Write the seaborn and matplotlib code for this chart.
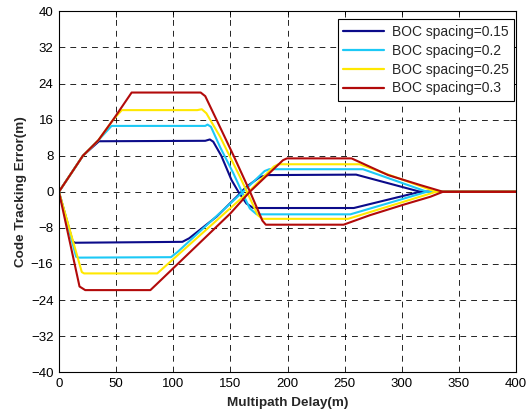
import matplotlib
matplotlib.use("Agg")
import matplotlib.pyplot as plt
import seaborn as sns
import pandas as pd

# Multipath error envelopes: for each early-late spacing, one branch that
# starts positive (in-phase reflection) and one that starts negative.
spacings = ["BOC spacing=0.15", "BOC spacing=0.2", "BOC spacing=0.25", "BOC spacing=0.3"]
colors = ["#0B0B8A", "#1CC9F6", "#FFE800", "#B20A0A"]

delay_015_pos = [0, 21, 35, 128, 132, 135, 142, 151, 157, 164, 170, 258, 316, 336, 400]
error_015_pos = [0, 8, 11.2, 11.3, 11.6, 11.1, 8.0, 2.6, 0, -2.6, -3.6, -3.6, 0, 0, 0]
delay_015_neg = [0, 12, 14, 108, 114, 138, 155.5, 164, 176, 183, 260, 316, 336, 400]
error_015_neg = [0, -11.0, -11.3, -11.1, -10.3, -5.5, -1.1, 1.1, 3.3, 3.7, 3.8, 0, 0, 0]

delay_020_pos = [0, 21, 34.4, 46, 128, 130, 133, 141, 152.6, 160, 167, 173, 255, 322, 336, 400]
error_020_pos = [0, 8, 11.4, 14.6, 14.6, 14.9, 14.4, 9.9, 4.1, 0, -3.7, -5.0, -5.0, 0, 0, 0]
delay_020_neg = [0, 15, 17, 98, 104, 161, 180, 184, 266, 322, 336, 400]
error_020_neg = [0, -14.4, -14.6, -14.5, -13.3, 0, 4.6, 5.0, 5.0, 0, 0, 0]

delay_025_pos = [0, 21, 34.4, 47.5, 55, 121, 125, 129, 141, 158.4, 174, 178, 253, 330, 336, 400]
error_025_pos = [0, 8, 11.4, 16, 18.1, 18.1, 18.3, 17.4, 12.2, 3.3, -5.2, -6.0, -6.0, 0, 0, 0]
delay_025_neg = [0, 20, 22, 86, 90, 166, 188, 192, 263, 330, 336, 400]
error_025_neg = [0, -17.8, -18.1, -18.1, -17.2, 0, 5.6, 6.1, 6.1, 0, 0, 0]

delay_030_pos = [0, 21, 34.4, 47.5, 63.6, 124, 128, 138, 152.6, 167.2, 178, 181, 249, 272, 301, 325, 336, 400]
error_030_pos = [0, 8, 11.4, 16, 22, 22, 21.2, 15.9, 8.1, 0, -6.4, -7.3, -7.3, -5.2, -2.9, -1.1, 0, 0]
delay_030_neg = [0, 18, 23, 80, 85, 150, 167, 196, 199.5, 256, 288, 316, 336, 400]
error_030_neg = [0, -21.0, -21.8, -21.8, -20.6, -4.8, 0, 7.0, 7.4, 7.4, 3.7, 1.5, 0, 0]

branches = [
    (spacings[0], "pos", delay_015_pos, error_015_pos),
    (spacings[0], "neg", delay_015_neg, error_015_neg),
    (spacings[1], "pos", delay_020_pos, error_020_pos),
    (spacings[1], "neg", delay_020_neg, error_020_neg),
    (spacings[2], "pos", delay_025_pos, error_025_pos),
    (spacings[2], "neg", delay_025_neg, error_025_neg),
    (spacings[3], "pos", delay_030_pos, error_030_pos),
    (spacings[3], "neg", delay_030_neg, error_030_neg),
]

rows = []
for name, branch, xs, ys in branches:
    for i, (x, y) in enumerate(zip(xs, ys)):
        rows.append({"delay": x, "error": y, "spacing": name,
                     "branch": f"{name}-{branch}", "order": i})
df = pd.DataFrame(rows)

sns.set_theme(style="white")
plt.rcParams["font.family"] = ["Liberation Sans", "DejaVu Sans"]

fig = plt.figure(figsize=(5.31, 4.11), dpi=100)
ax = fig.add_axes([0.111, 0.0944, 0.861, 0.878])

sns.lineplot(data=df, x="delay", y="error", hue="spacing", hue_order=spacings,
             palette=colors, units="branch", estimator=None, sort=False,
             linewidth=1.5, ax=ax, legend=False)

ax.set_xlim(0, 400)
ax.set_ylim(-40, 40)
ax.set_xticks(range(0, 401, 50))
ax.set_yticks(range(-40, 41, 8))
ax.grid(True, color="black", linestyle=(0, (7, 6)), linewidth=0.6)
ax.set_axisbelow(True)
for sp in ax.spines.values():
    sp.set_color("black")
    sp.set_linewidth(0.8)
ax.tick_params(direction="in", length=4, width=0.6, top=True, right=True,
               labelsize=9.5, colors="black", pad=4)

ax.set_xlabel("Multipath Delay(m)", fontsize=9.7, fontweight="bold", labelpad=5)
ax.set_ylabel("Code Tracking Error(m)", fontsize=9.7, fontweight="bold", labelpad=3)

handles = [plt.Line2D([], [], color=c, linewidth=1.6) for c in colors]
leg = ax.legend(handles, spacings, loc="upper right", bbox_to_anchor=(0.996, 0.978),
                borderaxespad=0, fontsize=10, frameon=True, fancybox=False,
                framealpha=1, edgecolor="black", handlelength=2.9,
                labelspacing=0.35, borderpad=0.4, handletextpad=0.6)
leg.get_frame().set_linewidth(0.8)

fig.savefig("out.png", dpi=100)
